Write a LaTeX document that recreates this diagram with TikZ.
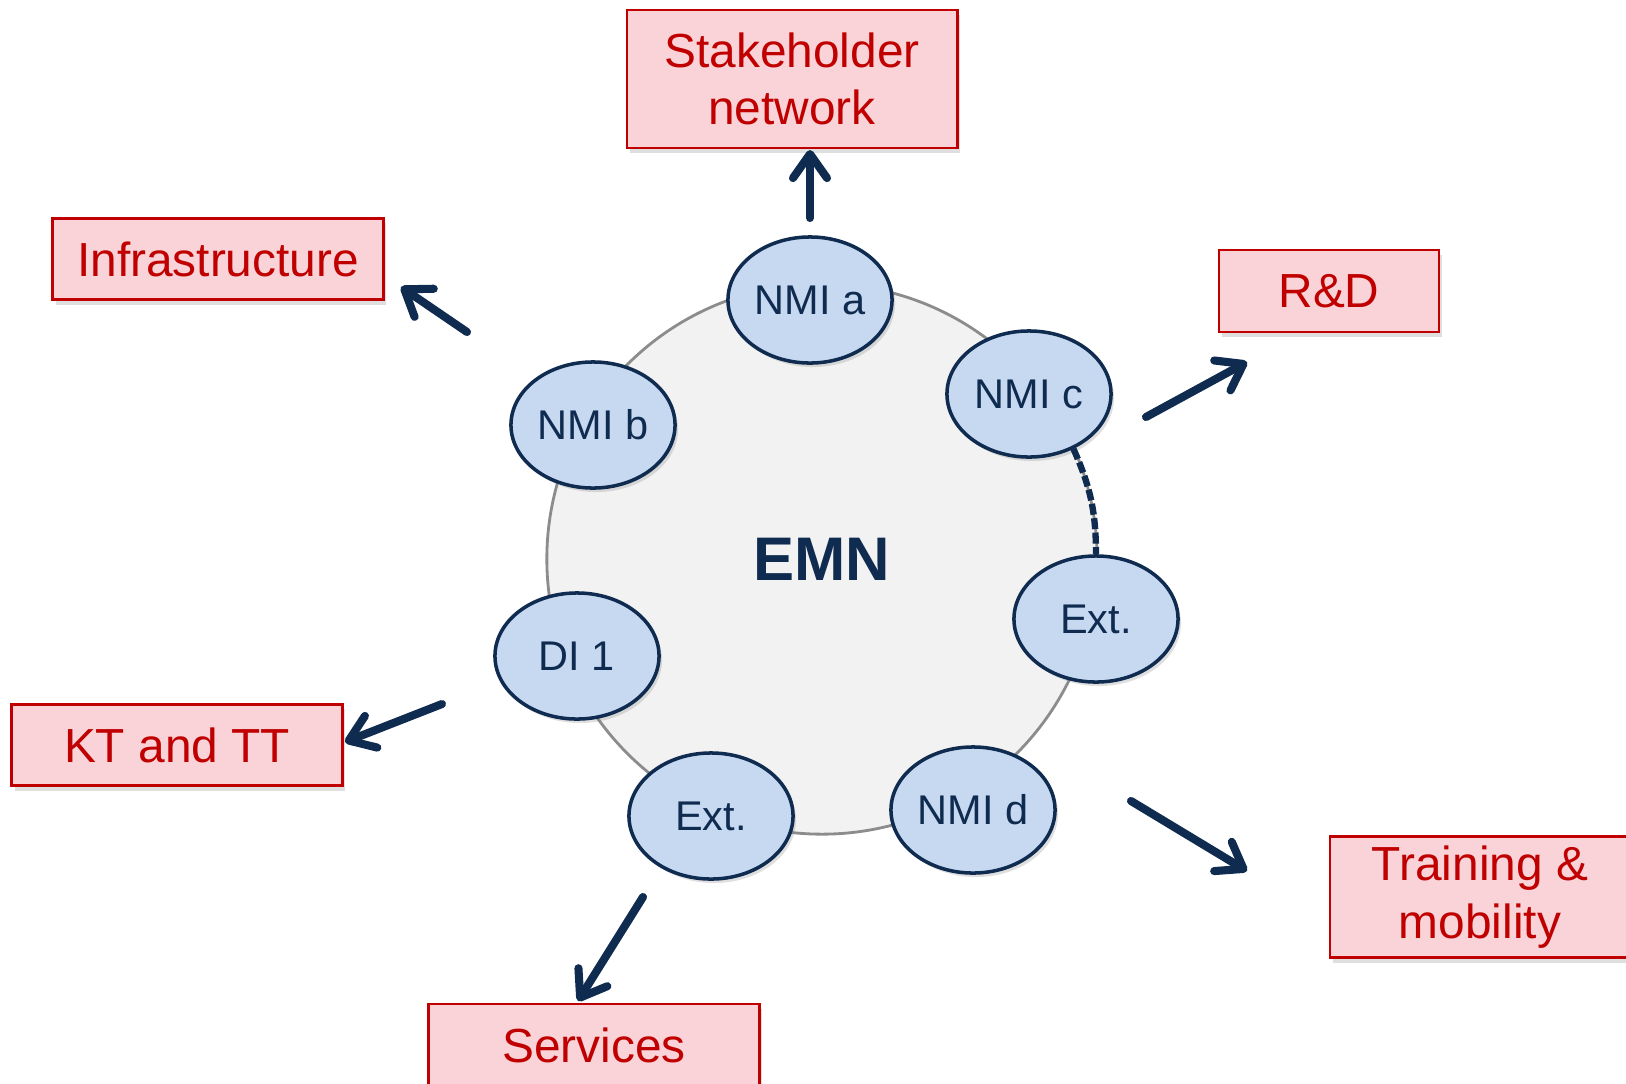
\documentclass[tikz,border=0pt]{standalone}
\usepackage{fontspec}
\setmainfont{Liberation Sans}
\usetikzlibrary{arrows.meta,shapes.geometric,shadows}
\definecolor{navy}{HTML}{0F2B4F}
\definecolor{boxred}{HTML}{C00000}
\definecolor{boxpink}{HTML}{F9D3D7}
\definecolor{nodeblue}{HTML}{C6D9F1}
\definecolor{hubgray}{HTML}{F2F2F2}
\definecolor{rimgray}{HTML}{8C8C8C}

\begin{document}
\begin{tikzpicture}[x=0.01cm,y=-0.01cm]
	\useasboundingbox (0,0) rectangle (1626,1084);

	% the network
	\node [circle,draw=rimgray,line width=0.8pt,fill=hubgray,minimum size=5.5cm,
		text=navy,font=\fontsize{17.5}{20}\selectfont\bfseries] (emn) at (822,559) {EMN};

	\begin{scope}[every node/.style={ellipse,draw=navy,line width=1pt,fill=nodeblue,
			minimum width=1.64cm,minimum height=1.26cm,inner sep=0pt,text=navy,
			font=\fontsize{11.8}{14}\selectfont,
			drop shadow={opacity=0.25,shadow xshift=0.03cm,shadow yshift=-0.04cm}}]
		\node (nmia) at (810,300) {NMI a};
		\node (nmib) at (593,425) {NMI b};
		\node (nmic) at (1029,394) {NMI c};
		\node (extr) at (1096,619) {Ext.};
		\node (di) at (577,656) {DI 1};
		\node (extb) at (711,816) {Ext.};
		\node (nmid) at (973,810) {NMI d};
	\end{scope}

	\draw [navy,line width=1.8pt,dash pattern=on 0.11cm off 0.035cm] (nmic.-51) to [bend left=12] (extr.north);

	% the activities
	\begin{scope}[every node/.style={rectangle,draw=boxred,line width=0.8pt,fill=boxpink,
			inner sep=0pt,align=center,text=boxred,font=\fontsize{13.6}{16.3}\selectfont,
			drop shadow={opacity=0.25,shadow xshift=0.03cm,shadow yshift=-0.05cm}}]
		\node [minimum width=3.3cm,minimum height=1.38cm] (stake) at (792,79) {Stakeholder\\network};
		\node [minimum width=3.3cm,minimum height=0.81cm] (infra) at (218,259) {Infrastructure};
		\node [minimum width=2.2cm,minimum height=0.82cm] (rd) at (1329,291) {R\&D};
		\node [minimum width=3.3cm,minimum height=0.81cm] (kt) at (177,745) {KT and TT};
		\node [minimum width=3.3cm,minimum height=0.82cm] (serv) at (594,1045) {Services};
		\node [minimum width=3.0cm,minimum height=1.21cm] (train) at (1480,897) {Training \&\\mobility};
	\end{scope}

	\coordinate (stake-s) at (810,218);  \coordinate (stake-t) at (810,150);
	\coordinate (infra-s) at (467,332);  \coordinate (infra-t) at (401,287);
	\coordinate (rd-s) at (1146,417);    \coordinate (rd-t) at (1247,362);
	\coordinate (kt-s) at (442,704);     \coordinate (kt-t) at (345,742);
	\coordinate (serv-s) at (643,897);   \coordinate (serv-t) at (578,1001);
	\coordinate (train-s) at (1131,801); \coordinate (train-t) at (1247,871);

	\begin{scope}[every edge/.style={draw=navy,line width=2.3pt,line cap=round}]
		\path [-{Straight Barb[length=2.4mm,width=3.4mm,round]}] (stake-s) edge (stake-t);
		\path [-{Straight Barb[length=2.4mm,width=3.4mm,round]}] (infra-s) edge (infra-t);
		\path [-{Straight Barb[length=2.4mm,width=3.4mm,round]}] (rd-s) edge (rd-t);
		\path [-{Straight Barb[length=2.4mm,width=3.4mm,round]}] (kt-s) edge (kt-t);
		\path [-{Straight Barb[length=2.4mm,width=3.4mm,round]}] (serv-s) edge (serv-t);
		\path [-{Straight Barb[length=2.4mm,width=3.4mm,round]}] (train-s) edge (train-t);
	\end{scope}
\end{tikzpicture}
\end{document}
